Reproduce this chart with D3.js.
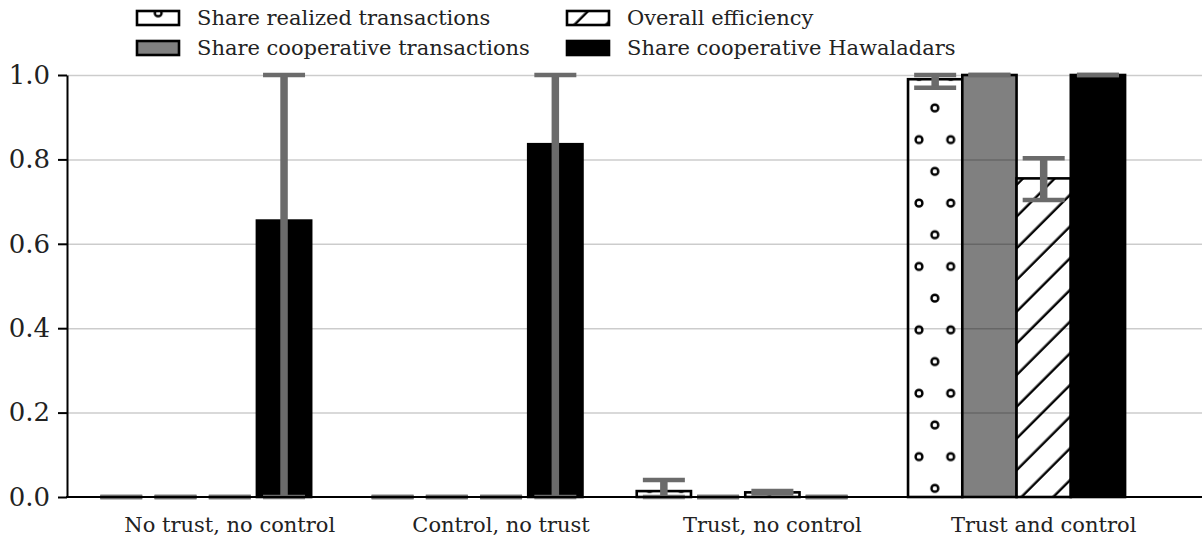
<!DOCTYPE html>
<meta charset="utf-8">
<style>
body { margin: 0; background: white; }
svg { font-family: "DejaVu Serif", serif; }
.grid line {
  stroke: black;
  stroke-opacity: 0.2;
  stroke-width: 1.5;
}
.grid .domain { display: none; }
.yaxis .domain, .yaxis line { stroke: black; stroke-width: 2; }
.yaxis text { font-family: "DejaVu Serif", serif; font-size: 26px; fill: #222; }
.xlabel { font-size: 21px; fill: #222; }
.legend text { font-size: 21px; fill: #222; }
</style>
<svg width="1202" height="540"></svg>
<script src="https://d3js.org/d3.v7.min.js"></script>
<script>
// categories / series
var categories = ["No trust, no control", "Control, no trust", "Trust, no control", "Trust and control"];
var seriesNames = ["Share realized transactions", "Share cooperative transactions",
                   "Overall efficiency", "Share cooperative Hawaladars"];

// values per series, one per category
var realized   = [0, 0, 0.014, 0.99];
var coopTrans  = [0, 0, 0, 1.0];
var efficiency = [0, 0, 0.011, 0.755];
var hawaladars = [0.655, 0.836, 0, 1.0];

// error bar ends (low / high)
var realizedLo = [0, 0, 0, 0.97],   realizedHi = [0, 0, 0.04, 1.0];
var coopLo     = [0, 0, 0, 1.0],    coopHi     = [0, 0, 0, 1.0];
var effLo      = [0, 0, 0.008, 0.704], effHi   = [0, 0, 0.014, 0.803];
var hawaLo     = [0, 0, 0, 1.0],    hawaHi     = [1.0, 1.0, 0, 1.0];

var yTicks = [0, 0.2, 0.4, 0.6, 0.8, 1.0];

var values = [realized, coopTrans, efficiency, hawaladars];
var lows   = [realizedLo, coopLo, effLo, hawaLo];
var highs  = [realizedHi, coopHi, effHi, hawaHi];
var fills  = ["url(#dots)", "#808080", "url(#diag)", "black"];

var svg = d3.select("svg");
var plotLeft = 67, plotRight = 1202, plotTop = 75, plotBottom = 497;

var defs = svg.append("defs");
var U = 31.7;
var dots = defs.append("pattern")
    .attr("id", "dots")
    .attr("patternUnits", "userSpaceOnUse")
    .attr("x", 919).attr("y", 92)
    .attr("width", U).attr("height", 2 * U);
dots.append("rect").attr("width", U).attr("height", 2 * U).attr("fill", "white");
[[U / 2, 16], [0, 16 + U], [U, 16 + U]].forEach(function(p) {
    dots.append("circle")
        .attr("cx", p[0]).attr("cy", p[1]).attr("r", 3.4)
        .attr("fill", "none").attr("stroke", "black").attr("stroke-width", 2.4);
});

// '/' hatch: horizontal stripe rotated by -45deg
var D = U / Math.SQRT2;
var diag = defs.append("pattern")
    .attr("id", "diag")
    .attr("patternUnits", "userSpaceOnUse")
    .attr("width", D).attr("height", D)
    .attr("patternTransform", "rotate(-45)");
diag.append("rect").attr("width", D).attr("height", D).attr("fill", "white");
diag.append("rect")
    .attr("x", -1).attr("y", 20.2 - 1.2)
    .attr("width", D + 2).attr("height", 2.4)
    .attr("fill", "black");

var xScale = d3.scaleBand()
    .domain(categories)
    .range([plotLeft, plotLeft + 4 * 271.3])
    .paddingInner(0.2)
    .paddingOuter(0.1);

var xInner = d3.scaleBand()
    .domain(d3.range(4))
    .range([0, xScale.bandwidth()]);

var yScale = d3.scaleLinear()
    .domain([0, 1])
    .range([plotBottom, plotTop]);

// bars
var barG = svg.append("g");
values.forEach(function(vals, s) {
    barG.selectAll(".bar" + s)
        .data(vals)
        .enter().append("rect")
            .attr("x", function(d, i) { return xScale(categories[i]) + xInner(s); })
            .attr("y", function(d) { return yScale(d); })
            .attr("width", xInner.bandwidth())
            .attr("height", function(d) { return yScale(0) - yScale(d); })
            .attr("fill", fills[s])
            .attr("stroke", "black")
            .attr("stroke-width", 2.6);
});

// grid on top of bars
svg.append("g")
    .attr("class", "grid")
    .attr("transform", "translate(" + plotLeft + ",0)")
    .call(d3.axisLeft(yScale)
        .tickValues(yTicks.slice(1))
        .tickSize(-(plotRight - plotLeft))
        .tickFormat(""));

// error bars
var errG = svg.append("g");
var capW = 42;
values.forEach(function(vals, s) {
    vals.forEach(function(v, i) {
        var cx = xScale(categories[i]) + xInner(s) + xInner.bandwidth() / 2;
        var y1 = yScale(lows[s][i]), y2 = yScale(highs[s][i]);
        errG.append("line")
            .attr("x1", cx).attr("x2", cx).attr("y1", y1).attr("y2", y2)
            .attr("stroke", "#6b6b6b").attr("stroke-width", 7.5);
        [y1, y2].forEach(function(y) {
            errG.append("line")
                .attr("x1", cx - capW / 2).attr("x2", cx + capW / 2)
                .attr("y1", y).attr("y2", y)
                .attr("stroke", "#6b6b6b").attr("stroke-width", 4.5);
        });
    });
});

// axes
svg.append("g")
    .attr("class", "yaxis")
    .attr("transform", "translate(" + plotLeft + ",0)")
    .call(d3.axisLeft(yScale)
        .tickValues(yTicks)
        .tickSize(9)
        .tickPadding(8)
        .tickSizeOuter(0)
        .tickFormat(d3.format(".1f")))
    .attr("font-family", null)
    .attr("font-size", null);

svg.append("line")
    .attr("x1", plotLeft - 1).attr("x2", plotRight)
    .attr("y1", plotBottom).attr("y2", plotBottom)
    .attr("stroke", "black").attr("stroke-width", 2);

svg.append("g").selectAll("text")
    .data(categories)
    .enter().append("text")
        .attr("class", "xlabel")
        .attr("x", function(d) { return xScale(d) + xScale.bandwidth() / 2 + xInner.bandwidth() / 2; })
        .attr("y", 532)
        .style("text-anchor", "middle")
        .text(function(d) { return d; });

// legend
var legendPos = [[137, 11], [137, 41], [567, 11], [567, 41]];
var legend = svg.append("g").attr("class", "legend");
d3.range(4).forEach(function(s) {
    var p = legendPos[s];
    legend.append("rect")
        .attr("x", p[0]).attr("y", p[1])
        .attr("width", 42).attr("height", 14)
        .attr("fill", fills[s])
        .attr("stroke", "black").attr("stroke-width", 2.6);
    legend.append("text")
        .attr("x", p[0] + 60).attr("y", p[1] + 14)
        .text(seriesNames[s]);
});
</script>
